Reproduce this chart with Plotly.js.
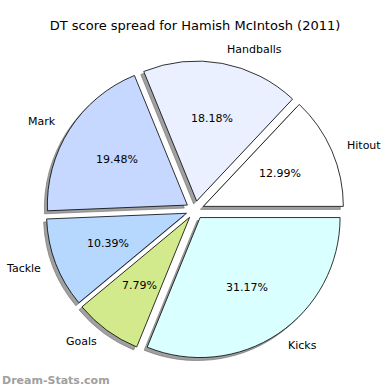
<!DOCTYPE html>
<html>
<head>
<meta charset="utf-8">
<script src="https://cdn.plot.ly/plotly-3.0.1.min.js"></script>
<style>html,body{margin:0;padding:0;background:#fff;}#chart{width:390px;height:390px;}</style>
</head>
<body>
<div id="chart"></div>
<script>
const categories = ["Hitout", "Handballs", "Mark", "Tackle", "Goals", "Kicks"];
const values = [10, 14, 15, 8, 6, 24];
const colors = ["#ffffff", "#eaf0ff", "#c6d8ff", "#b6d8ff", "#d2ea8c", "#daffff"];
const pulls = [0.065, 0.065, 0.065, 0.065, 0.065, 0.065];

const W = 390, H = 390;
const cx = 195, cy = 210, r = 140;
const maxPull = Math.max(...pulls);
const ext = r * (1 + maxPull);
const dom = {x: [(cx - ext) / W, (cx + ext) / W], y: [(H - cy - ext) / H, (H - cy + ext) / H]};
const sh = 3;
const domShadow = {x: [dom.x[0] - sh / W, dom.x[1] - sh / W], y: [dom.y[0] - sh / H, dom.y[1] - sh / H]};
const font = "DejaVu Sans, sans-serif";

const total = values.reduce((a, b) => a + b, 0);
const rot = 90 - values[0] / total * 360;

const common = {
  type: "pie", labels: categories, values: values, sort: false,
  direction: "counterclockwise", rotation: rot, pull: pulls,
  hoverinfo: "none", showlegend: false, textinfo: "none"
};

const shadow = Object.assign({}, common, {
  domain: domShadow,
  marker: {colors: categories.map(() => "rgba(150,150,150,0.9)"), line: {color: "rgba(110,110,110,0.6)", width: 1}}
});
const main = Object.assign({}, common, {
  domain: dom,
  marker: {colors: colors, line: {color: "#000", width: 0.8}}
});

// text positions derived from the data (slice mid-angles), matplotlib style
const annotations = [];
let cum = 0;
values.forEach((v, i) => {
  const mid = (cum + v / 2) / total * 2 * Math.PI; // counterclockwise from 3 o'clock
  cum += v;
  const c = Math.cos(mid), s = Math.sin(mid);
  const ex = cx + pulls[i] * r * c, ey = cy - pulls[i] * r * s;
  const px = ex + 0.6 * r * c, py = ey - 0.6 * r * s;
  const lx = ex + 1.1 * r * c, ly = ey - 1.1 * r * s;
  annotations.push({
    text: (v / total * 100).toFixed(2) + "%", xref: "paper", yref: "paper",
    x: px / W, y: 1 - py / H, xanchor: "center", yanchor: "middle", showarrow: false,
    font: {family: font, size: 11, color: "#000"}
  });
  annotations.push({
    text: categories[i], xref: "paper", yref: "paper",
    x: lx / W, y: 1 - ly / H, xanchor: c >= 0 ? "left" : "right", yanchor: "middle", showarrow: false,
    font: {family: font, size: 11, color: "#000"}
  });
});
annotations.push({
  text: "<b>Dream-Stats.com</b>", xref: "paper", yref: "paper", x: 0, y: 10 / H, xanchor: "left", yanchor: "middle",
  showarrow: false, font: {family: font, size: 11, color: "#a0a0a0"}
});

const layout = {
  width: W, height: H,
  margin: {l: 0, r: 0, t: 0, b: 0},
  paper_bgcolor: "#fff",
  title: {text: "DT score spread for Hamish McIntosh (2011)", font: {family: font, size: 13, color: "#000"}, x: 0.5, xanchor: "center", y: 1 - 25 / H, yanchor: "middle"},
  annotations: annotations
};

Plotly.newPlot("chart", [shadow, main], layout, {staticPlot: true});
</script>
</body>
</html>
